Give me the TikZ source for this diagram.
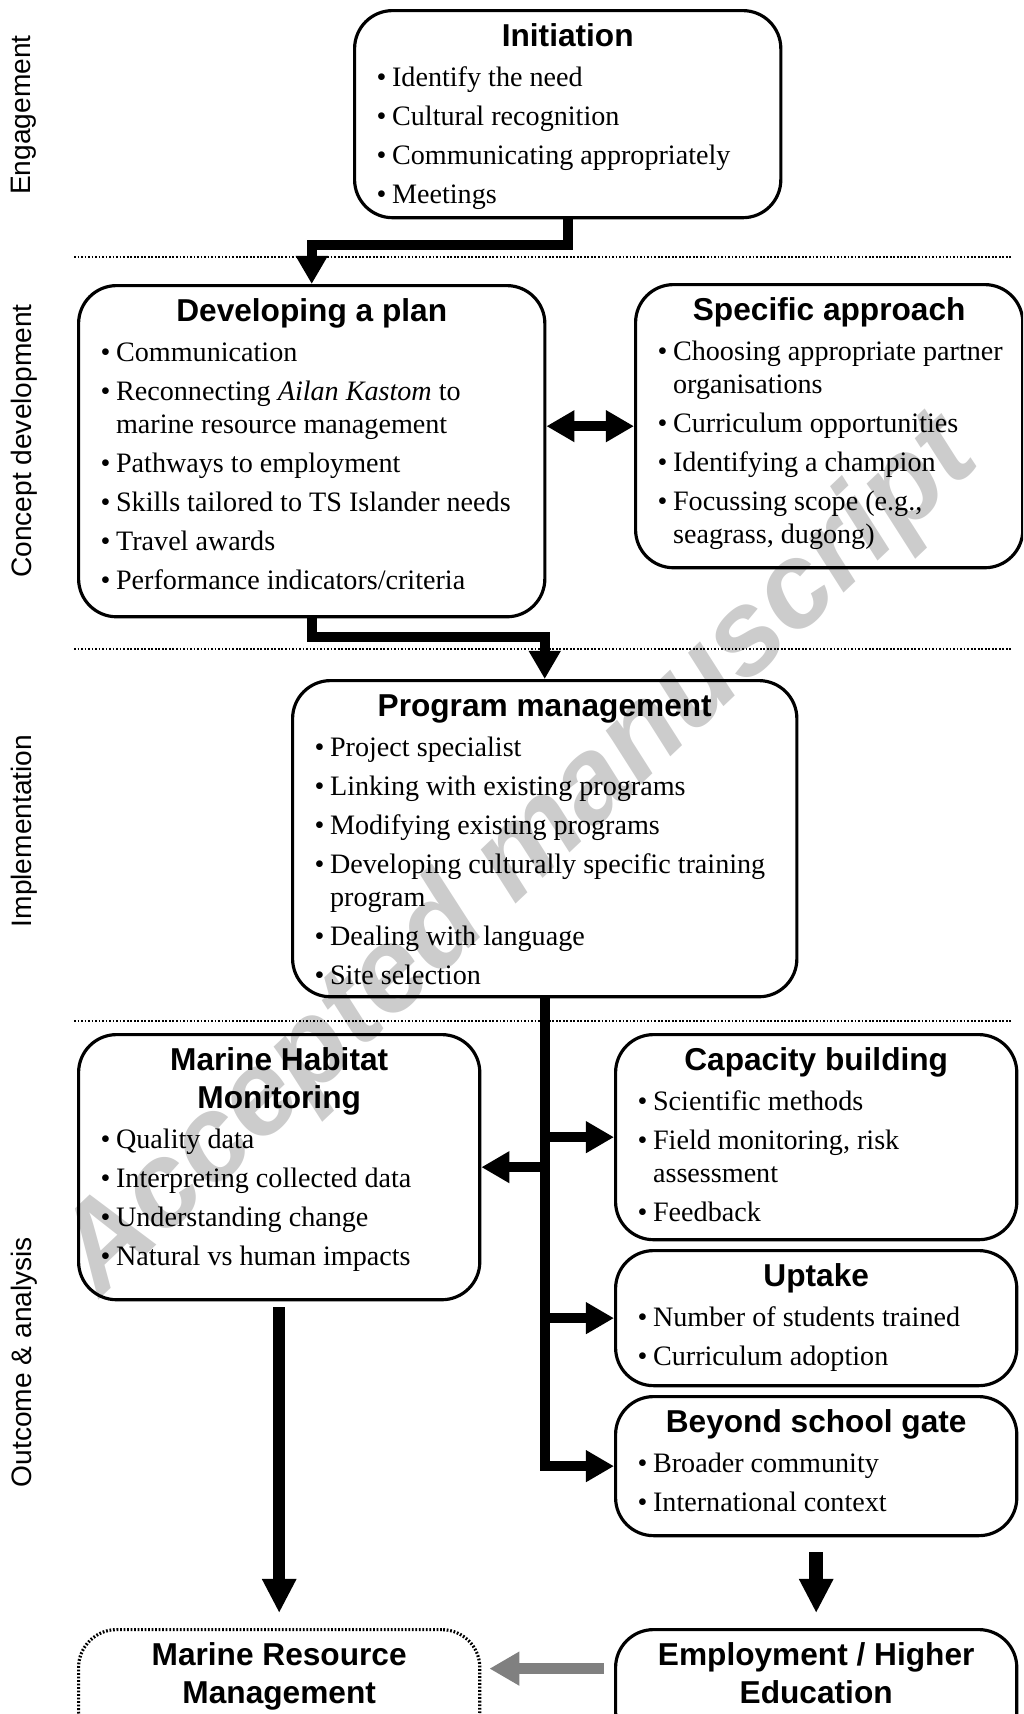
\documentclass[tikz,border=0pt]{standalone}
\usepackage{fontspec}
\setmainfont{Liberation Serif}
\setsansfont{Liberation Sans}
\usetikzlibrary{arrows.meta}
\usetikzlibrary{backgrounds}

% box contents: width, height, text
\newcommand{\stagetext}[3]{%
  \begin{minipage}[t][#2][t]{#1}%
  \raggedright\fontsize{8}{9.4}\selectfont
  \setlength{\parskip}{1.7pt}%
  #3%
  \end{minipage}}
\newcommand{\stagehead}[1]{%
  {\centering\sffamily\bfseries\fontsize{9}{10.8}\selectfont
   \rule{0pt}{0.36cm}#1\par}\vspace{0.3pt}}
\newcommand{\itm}[1]{\par\noindent\leftskip=0.22cm
  \hangindent=0.155cm\hangafter=1\makebox[0.155cm][l]{\textbullet}#1}

\begin{document}
\begin{tikzpicture}[x=0.01cm, y=-0.01cm,
  stage/.style={draw, line width=0.9pt, rounded corners=0.38cm,
                inner sep=0pt, anchor=north west},
  flow/.style={line width=0.1cm, line join=miter,
               -{Triangle[length=0.28cm, width=0.3cm]}},
  bigflow/.style={line width=0.12cm,
               -{Triangle[length=0.34cm, width=0.32cm]}},
  grayflow/.style={line width=0.11cm, gray,
               -{Triangle[length=0.3cm, width=0.32cm]}},
  sep/.style={line width=0.6pt, dash pattern=on 0.5pt off 0.5pt},
  phase/.style={rotate=90, font=\sffamily\fontsize{8}{9.6}\selectfont},
  stamp/.style={rotate=43.5, text=black!20,
                font=\sffamily\bfseries\itshape\fontsize{34}{40}\selectfont},
  ]
\useasboundingbox (0,0) rectangle (1023,1714);
\clip (0,0) rectangle (1023,1714);

\begin{scope}[on background layer]
  \node[stamp] (wm) at (520,858) {Accepted manuscript};
\end{scope}

% phases
\node[phase] (engage)    at (24,115)  {Engagement};
\node[phase] (concept)   at (24,441)  {Concept development};
\node[phase] (implement) at (24,831)  {Implementation};
\node[phase] (outcome)   at (24,1362) {Outcome \& analysis};

\draw[sep] (74,257)  -- (1011,257);
\draw[sep] (74,649)  -- (1011,649);
\draw[sep] (74,1021) -- (1011,1021);

%%% boxes
\node[stage] (init) at (353,9) {\stagetext{4.26cm}{2.07cm}{%
  \stagehead{Initiation}
  \itm{Identify the need}
  \itm{Cultural recognition}
  \itm{Communicating appropriately}
  \itm{Meetings}}};

\node[stage] (plan) at (77,284) {\stagetext{4.66cm}{3.31cm}{%
  \stagehead{Developing a plan}
  \itm{Communication}
  \itm{Reconnecting \textit{Ailan Kastom} to\newline marine resource management}
  \itm{Pathways to employment}
  \itm{Skills tailored to TS Islander needs}
  \itm{Travel awards}
  \itm{Performance indicators/criteria}}};

\node[stage] (approach) at (634,283) {\stagetext{3.87cm}{2.83cm}{%
  \stagehead{Specific approach}
  \itm{Choosing appropriate partner\newline organisations}
  \itm{Curriculum opportunities}
  \itm{Identifying a champion}
  \itm{Focussing scope (e.g.,\newline seagrass, dugong)}}};

\node[stage] (prog) at (291,679) {\stagetext{5.04cm}{3.16cm}{%
  \stagehead{Program management}
  \itm{Project specialist}
  \itm{Linking with existing programs}
  \itm{Modifying existing programs}
  \itm{Developing culturally specific training\newline program}
  \itm{Dealing with language}
  \itm{Site selection}}};

\node[stage] (habitat) at (77,1033) {\stagetext{4.01cm}{2.65cm}{%
  \stagehead{Marine Habitat\\Monitoring}
  \itm{Quality data}
  \itm{Interpreting collected data}
  \itm{Understanding change}
  \itm{Natural vs human impacts}}};

\node[stage] (capacity) at (614,1033) {\stagetext{4.01cm}{2.05cm}{%
  \stagehead{Capacity building}
  \itm{Scientific methods}
  \itm{Field monitoring, risk\newline assessment}
  \itm{Feedback}}};

\node[stage] (uptake) at (614,1249) {\stagetext{4.01cm}{1.35cm}{%
  \stagehead{Uptake}
  \itm{Number of students trained}
  \itm{Curriculum adoption}}};

\node[stage] (beyond) at (614,1395) {\stagetext{4.01cm}{1.39cm}{%
  \stagehead{Beyond school gate}
  \itm{Broader community}
  \itm{International context}}};

\node[stage, sep, line width=0.9pt] (resource) at (77,1628) {\stagetext{4.01cm}{1.2cm}{%
  \stagehead{Marine Resource\\Management}}};

\node[stage] (employ) at (614,1628) {\stagetext{4.01cm}{1.2cm}{%
  \stagehead{Employment / Higher\\Education}}};

%%% connectors
\draw[flow] (init.south) -- ++(0,26) -| (plan.north);
\draw[flow, {Triangle[length=0.28cm, width=0.3cm]}-{Triangle[length=0.28cm, width=0.3cm]}]
  (plan.east |- approach.west) -- (approach.west);
\draw[flow] (plan.south) -- ++(0,19) -| (prog.north);
\draw[flow] (prog.south) |- (beyond.west);
\draw[flow] (prog.south |- capacity.west) -- (capacity.west);
\draw[flow] (prog.south |- habitat.east) -- (habitat.east);
\draw[flow] (prog.south |- uptake.west) -- (uptake.west);
\draw[bigflow, shorten <=0.06cm, shorten >=0.15cm] (habitat.south) -- (resource.north);
\draw[bigflow, line width=0.14cm, shorten <=0.15cm, shorten >=0.15cm] (beyond.south) -- (employ.north);
\draw[grayflow, shorten <=0.1cm, shorten >=0.08cm]
  ([yshift=0.21cm]employ.west) -- ([yshift=0.21cm]resource.east);
\end{tikzpicture}
\end{document}
